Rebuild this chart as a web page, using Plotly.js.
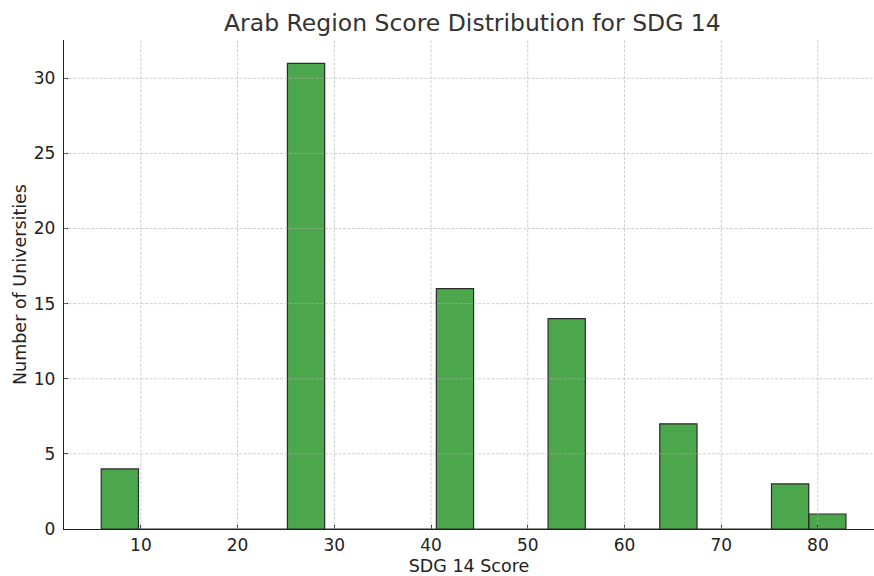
<!DOCTYPE html>
<html>
<head>
<meta charset="utf-8">
<script src="https://cdn.plot.ly/plotly-3.0.1.min.js"></script>
<style>html,body{margin:0;padding:0;background:#fff;}#chart{width:874px;height:576px;}</style>
</head>
<body>
<div id="chart"></div>
<script>
// Histogram data (20 equal-width bins)
const binStart = 5.9;
const binSize = 3.85;
const binCounts = [4, 0, 0, 0, 0, 31, 0, 0, 0, 16, 0, 0, 14, 0, 0, 7, 0, 0, 3, 1];
const xTickVals = [10, 20, 30, 40, 50, 60, 70, 80];
const yTickVals = [0, 5, 10, 15, 20, 25, 30];

const binCenters = binCounts.map((_, i) => binStart + (i + 0.5) * binSize);

const gridColor = 'rgba(176,176,176,0.75)';
const shapes = [];
xTickVals.forEach(v => shapes.push({type:'line', xref:'x', yref:'paper', x0:v, x1:v, y0:0, y1:1, layer:'above',
  line:{color:gridColor, width:0.8, dash:'3px,1.5px'}}));
yTickVals.filter(v => v > 0).forEach(v => shapes.push({type:'line', xref:'paper', yref:'y', x0:0, x1:1, y0:v, y1:v, layer:'above',
  line:{color:gridColor, width:0.8, dash:'3px,1.5px'}}));

const trace = {
  type: 'bar',
  x: binCenters,
  y: binCounts,
  width: binSize,
  marker: {color: 'rgba(0,128,0,0.7)', line: {color: '#2b2b2b', width: 1.2}},
  hoverinfo: 'x+y'
};

const font = 'DejaVu Sans, sans-serif';
const layout = {
  width: 874, height: 576,
  margin: {l: 64, r: 0, t: 40, b: 47, pad: 0},
  paper_bgcolor: '#fff', plot_bgcolor: '#fff',
  font: {family: font, color: '#333', size: 17},
  title: {text: 'Arab Region Score Distribution for SDG 14', font: {family: font, size: 23.5, color: '#333'},
          x: 0.5405, xanchor: 'center', y: 0.96, yanchor: 'middle'},
  bargap: 0,
  showlegend: false,
  xaxis: {
    range: [2.05, 85.8], tickvals: xTickVals, ticktext: xTickVals.map(String),
    showgrid: false, zeroline: false, showline: true, linecolor: '#222', linewidth: 1.2,
    ticks: 'inside', ticklen: 4, tickwidth: 1, tickcolor: '#222',
    tickfont: {family: font, size: 17, color: '#222'},
    ticklabelstandoff: 0,
    title: {text: 'SDG 14 Score', font: {family: font, size: 17.5, color: '#222'}, standoff: 6}
  },
  yaxis: {
    range: [0, 32.55], tickvals: yTickVals, ticktext: yTickVals.map(String),
    showgrid: false, zeroline: false, showline: true, linecolor: '#222', linewidth: 1.2,
    ticks: 'inside', ticklen: 4, tickwidth: 1, tickcolor: '#222',
    tickfont: {family: font, size: 17, color: '#222'},
    ticklabelstandoff: 4,
    title: {text: 'Number of Universities', font: {family: font, size: 17.5, color: '#222'}, standoff: 2}
  },
  shapes: shapes
};

Plotly.newPlot('chart', [trace], layout, {displayModeBar: false, staticPlot: true});
</script>
</body>
</html>
